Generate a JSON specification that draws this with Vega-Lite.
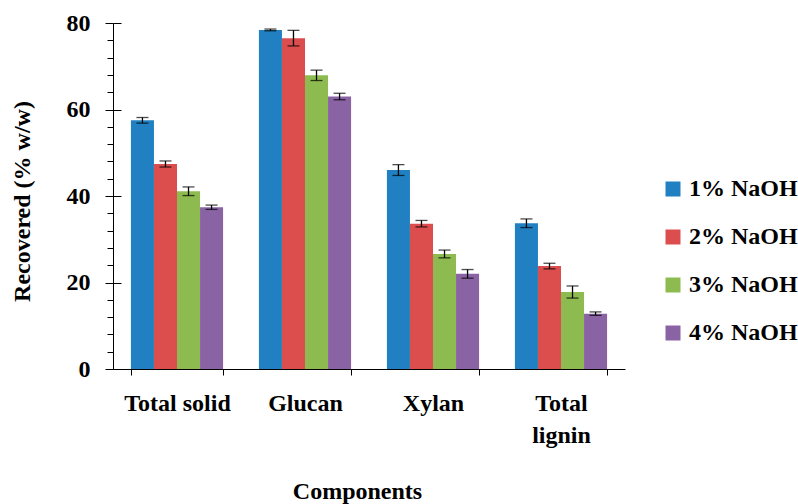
{
  "$schema": "https://vega.github.io/schema/vega-lite/v6.json",
  "width": 512,
  "height": 346,
  "autosize": "none",
  "padding": {"left": 113, "top": 23, "right": 173, "bottom": 135},
  "background": "white",
  "config": {
    "view": {"stroke": null},
    "font": "'Liberation Serif', 'DejaVu Serif', serif",
    "axis": {"domainColor": "black", "tickColor": "black", "labelColor": "black", "titleColor": "black", "grid": false, "labelFont": "'Liberation Serif', 'DejaVu Serif', serif", "titleFont": "'Liberation Serif', 'DejaVu Serif', serif"},
    "legend": {"labelFont": "'Liberation Serif', 'DejaVu Serif', serif"}
  },
  "data": {
    "values": [
      {"component": "Total solid", "naoh": "1% NaOH", "value": 57.5, "err": 0.65},
      {"component": "Total solid", "naoh": "2% NaOH", "value": 47.4, "err": 0.7},
      {"component": "Total solid", "naoh": "3% NaOH", "value": 41.1, "err": 1.0},
      {"component": "Total solid", "naoh": "4% NaOH", "value": 37.4, "err": 0.5},
      {"component": "Glucan", "naoh": "1% NaOH", "value": 78.4, "err": 0.2},
      {"component": "Glucan", "naoh": "2% NaOH", "value": 76.5, "err": 1.8},
      {"component": "Glucan", "naoh": "3% NaOH", "value": 67.9, "err": 1.2},
      {"component": "Glucan", "naoh": "4% NaOH", "value": 63.0, "err": 0.75},
      {"component": "Xylan", "naoh": "1% NaOH", "value": 46.0, "err": 1.25},
      {"component": "Xylan", "naoh": "2% NaOH", "value": 33.6, "err": 0.75},
      {"component": "Xylan", "naoh": "3% NaOH", "value": 26.6, "err": 0.9},
      {"component": "Xylan", "naoh": "4% NaOH", "value": 22.0, "err": 1.0},
      {"component": "Total lignin", "naoh": "1% NaOH", "value": 33.7, "err": 1.0},
      {"component": "Total lignin", "naoh": "2% NaOH", "value": 23.8, "err": 0.65},
      {"component": "Total lignin", "naoh": "3% NaOH", "value": 17.8, "err": 1.4},
      {"component": "Total lignin", "naoh": "4% NaOH", "value": 12.8, "err": 0.4}
    ]
  },
  "encoding": {
    "x": {
      "field": "component",
      "type": "nominal",
      "sort": ["Total solid", "Glucan", "Xylan", "Total lignin"],
      "scale": {"paddingInner": 0.28, "paddingOuter": 0.14},
      "axis": {
        "tickBand": "extent",
        "tickSize": 6,
        "labelAngle": 0,
        "labelFontSize": 24,
        "labelFontWeight": "bold",
        "labelPadding": 16,
        "labelLineHeight": 32,
        "labelExpr": "datum.label == 'Total lignin' ? ['Total', 'lignin'] : datum.label",
        "titleFontSize": 24,
        "titleFontWeight": "bold",
        "titleX": 244,
        "titleY": 122,
        "titleBaseline": "middle"
      },
      "title": "Components"
    },
    "xOffset": {"field": "naoh", "type": "nominal", "sort": ["1% NaOH", "2% NaOH", "3% NaOH", "4% NaOH"]}
  },
  "layer": [
    {
      "mark": {"type": "bar"},
      "encoding": {
        "y": {
          "field": "value",
          "type": "quantitative",
          "scale": {"domain": [0, 80]},
          "title": "Recovered (% w/w)",
          "axis": {
            "orient": "left",
            "values": [0, 20, 40, 60, 80],
            "tickSize": 8,
            "labelFontSize": 24,
            "labelFontWeight": "bold",
            "labelPadding": 15,
            "titleFontSize": 24,
            "titleFontWeight": "bold",
            "titleX": -91,
            "titleY": 178,
            "titleBaseline": "middle"
          }
        },
        "color": {
          "field": "naoh",
          "type": "nominal",
          "scale": {
            "domain": ["1% NaOH", "2% NaOH", "3% NaOH", "4% NaOH"],
            "range": ["#2180C2", "#DC4E4E", "#8EBB50", "#8963A4"]
          },
          "legend": {
            "orient": "none",
            "legendX": 548,
            "legendY": 154,
            "title": null,
            "symbolType": "square",
            "symbolSize": 225,
            "symbolStrokeWidth": 0,
            "labelFontSize": 24,
            "labelFontWeight": "bold",
            "labelColor": "black",
            "rowPadding": 24,
            "labelOffset": 4,
            "padding": 0
          }
        }
      }
    },
    {
      "mark": {"type": "errorbar", "color": "black", "thickness": 1.3, "ticks": {"size": 12, "color": "black"}},
      "encoding": {
        "y": {
          "field": "value",
          "type": "quantitative",
          "title": null,
          "axis": {
            "orient": "left",
            "values": [4, 8, 12, 16, 24, 28, 32, 36, 44, 48, 52, 56, 64, 68, 72, 76],
            "tickSize": 6,
            "domain": false,
            "labels": false,
            "title": null
          }
        },
        "yError": {"field": "err"}
      }
    },
    {
      "mark": {"type": "bar", "opacity": 0},
      "encoding": {
        "y": {
          "field": "value",
          "type": "quantitative",
          "title": null,
          "axis": {
            "orient": "left",
            "values": [0, 20, 40, 60, 80],
            "tickSize": 8,
            "offset": -8,
            "domain": false,
            "labels": false,
            "title": null
          }
        }
      }
    }
  ],
  "resolve": {"axis": {"y": "independent"}}
}
